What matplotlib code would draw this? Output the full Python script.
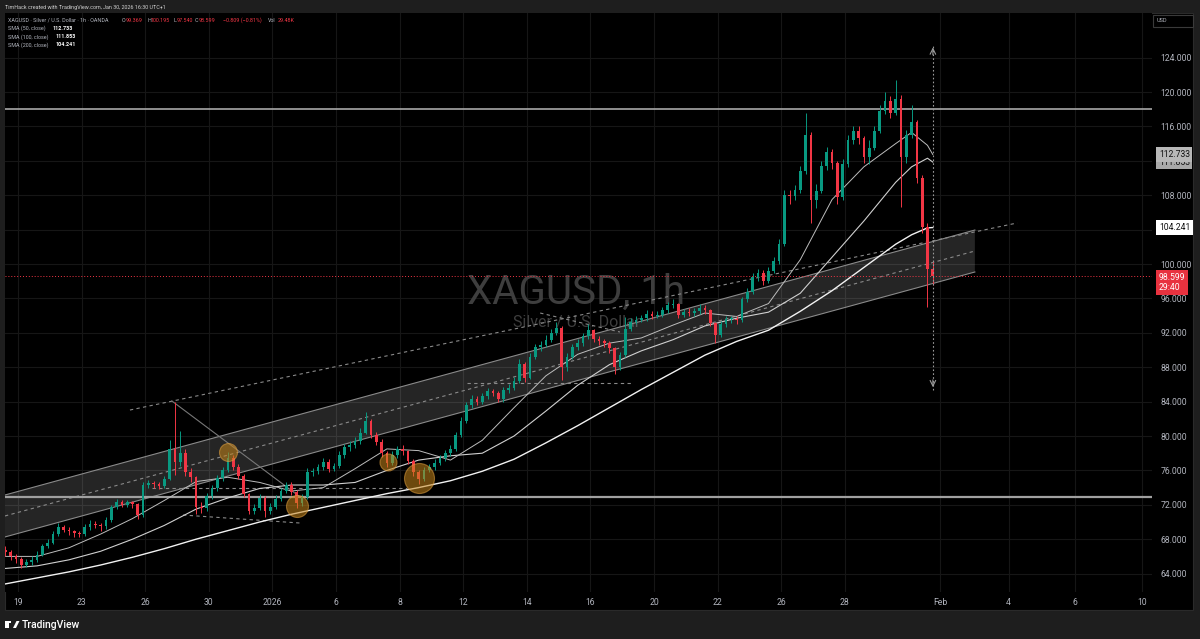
import matplotlib
matplotlib.use("Agg")
import matplotlib.pyplot as plt
import matplotlib.transforms as mtransforms
from matplotlib.patches import Rectangle, Polygon
import numpy as np

plt.rcParams['font.family'] = ['Roboto', 'DejaVu Sans']

# ---------------- data (XAGUSD) ----------------
first_open = 66.8
start_day = -0.40          # session-day position of the first bar
bars_per_day = 6

closes = [66.5, 66.0, 65.7, 65.0, 65.3, 65.6, 66.2, 67.2, 67.6, 68.6,
          69.4, 69.1, 68.9, 68.7, 68.6, 69.4, 69.8, 69.7, 69.5, 70.2,
          71.7, 72.3, 72.0, 72.3, 72.1, 70.8, 74.3, 74.5, 74.4, 74.2,
          75.0, 78.5, 77.0, 78.0, 75.8, 75.2, 71.8, 71.6, 73.0, 73.9,
          75.1, 76.0, 77.4, 76.4, 75.4, 73.2, 71.3, 71.6, 72.8, 71.3,
          71.7, 72.7, 73.6, 74.3, 73.5, 72.2, 72.9, 75.8, 75.9, 76.4,
          77.0, 76.2, 76.5, 77.8, 78.7, 78.9, 79.4, 80.4, 81.8, 80.1,
          79.3, 78.0, 76.9, 77.8, 78.5, 78.2, 77.1, 75.8, 75.0, 76.0,
          76.4, 76.9, 77.4, 78.0, 78.5, 80.1, 81.8, 83.6, 84.3, 84.0,
          84.6, 85.2, 85.0, 84.3, 85.3, 85.6, 86.4, 88.4, 86.8, 89.2,
          90.3, 90.6, 91.2, 92.0, 92.6, 88.0, 89.2, 90.3, 90.8, 91.6,
          92.3, 91.3, 91.0, 90.8, 90.2, 88.0, 89.4, 92.5, 93.3, 93.5,
          93.7, 94.2, 94.0, 94.1, 94.6, 95.2, 95.3, 94.1, 94.4, 94.3,
          94.5, 94.9, 94.6, 93.1, 91.8, 93.0, 93.6, 93.6, 93.5, 95.9,
          96.8, 98.5, 99.0, 98.0, 99.2, 100.3, 102.3, 108.0, 107.9, 108.6,
          110.8, 115.0, 107.5, 108.5, 111.4, 113.0, 111.8, 107.8, 111.6, 114.4,
          115.5, 114.6, 112.5, 113.5, 115.5, 117.8, 119.0, 117.6, 119.2, 112.5,
          115.0, 116.5, 110.0, 104.3, 99.369, 98.599]

highs = [67.2, 66.8, 66.3, 65.9, 65.7, 66.0, 66.6, 67.5, 68.0, 69.0,
         69.9, 69.6, 69.4, 69.1, 69.0, 69.8, 70.2, 70.1, 69.9, 70.6,
         72.0, 72.7, 72.6, 72.6, 72.5, 72.2, 74.7, 74.9, 74.8, 74.6,
         75.4, 79.5, 84.0, 80.6, 78.5, 76.3, 75.4, 72.3, 73.4, 74.3,
         75.5, 76.4, 78.1, 77.8, 76.8, 75.6, 73.4, 72.1, 73.3, 73.0,
         72.2, 73.1, 74.0, 74.7, 74.6, 73.7, 73.3, 76.3, 76.3, 76.8,
         77.4, 77.3, 76.9, 78.2, 79.1, 79.4, 79.9, 80.9, 82.8, 82.0,
         80.5, 79.6, 78.3, 78.3, 78.8, 78.9, 78.4, 77.3, 76.1, 76.4,
         76.8, 77.3, 77.8, 78.4, 78.9, 80.5, 82.2, 84.0, 84.8, 84.6,
         85.0, 85.6, 85.5, 85.2, 85.7, 86.0, 86.9, 88.9, 88.6, 89.6,
         90.7, 91.0, 91.7, 92.5, 93.2, 92.8, 89.7, 90.7, 91.3, 92.0,
         93.0, 92.5, 91.6, 91.3, 91.1, 90.4, 89.8, 93.8, 93.7, 93.9,
         94.1, 94.6, 94.5, 94.5, 95.0, 95.6, 95.9, 95.5, 94.8, 94.9,
         94.9, 95.3, 95.2, 94.8, 93.3, 93.4, 94.0, 94.0, 94.0, 96.2,
         97.2, 99.0, 99.4, 99.3, 99.6, 100.8, 102.9, 108.6, 108.6, 109.2,
         111.4, 117.6, 115.4, 109.3, 112.0, 113.6, 113.4, 112.0, 112.2, 115.0,
         116.0, 116.0, 114.9, 114.4, 116.0, 118.5, 120.0, 119.5, 121.4, 119.6,
         115.6, 118.5, 116.8, 110.4, 104.8, 100.195]

lows = [66.0, 65.6, 65.2, 64.7, 64.8, 65.0, 65.4, 66.0, 67.0, 67.4,
        68.4, 68.8, 68.5, 68.3, 68.2, 68.4, 69.1, 69.3, 68.9, 69.2,
        70.0, 71.5, 71.7, 71.8, 71.6, 70.4, 70.6, 74.0, 73.9, 73.8,
        74.0, 74.9, 75.5, 76.5, 75.3, 74.6, 70.9, 71.0, 71.3, 72.7,
        73.6, 74.8, 75.8, 76.0, 75.0, 72.9, 70.9, 70.9, 71.4, 70.6,
        70.9, 71.5, 72.5, 73.4, 73.1, 71.6, 71.9, 72.7, 75.3, 75.6,
        76.1, 75.8, 75.9, 76.3, 77.5, 78.3, 78.6, 79.1, 80.2, 79.8,
        78.9, 77.6, 76.4, 76.6, 77.5, 77.8, 76.8, 75.4, 74.4, 74.8,
        75.8, 76.1, 76.6, 77.1, 77.7, 78.3, 79.9, 81.5, 83.3, 83.6,
        83.7, 84.3, 84.6, 83.9, 84.0, 85.0, 85.3, 86.2, 86.3, 86.6,
        88.9, 89.9, 90.3, 90.9, 91.7, 86.5, 87.6, 88.9, 90.0, 90.5,
        91.3, 90.9, 90.6, 90.3, 89.7, 87.2, 87.7, 89.2, 92.2, 93.0,
        93.2, 93.4, 93.6, 93.7, 93.8, 94.3, 94.9, 93.7, 93.8, 93.9,
        94.0, 94.2, 94.2, 92.8, 90.8, 91.5, 92.7, 93.1, 93.0, 93.3,
        95.6, 96.5, 98.0, 97.6, 97.8, 98.9, 100.0, 102.1, 107.0, 107.4,
        108.3, 110.5, 104.8, 106.5, 108.2, 110.9, 111.0, 107.0, 107.5, 111.3,
        114.0, 114.0, 111.8, 111.6, 113.2, 115.2, 117.4, 117.0, 117.3, 106.6,
        111.8, 114.6, 109.4, 103.6, 95.0, 97.54]

# moving averages (bar index of each reading)
sma_idx = list(range(0, 169, 6)) + [171, 174, 175]
sma50 = [66.0, 66.0, 67.0, 68.6, 70.4, 72.5, 74.7, 75.2, 74.6, 73.6, 74.0, 76.2,
         78.5, 78.3, 77.2, 79.5, 83.3, 87.0, 89.5, 90.8, 91.4, 92.9, 94.3, 93.9,
         95.4, 100.5, 107.5, 111.3, 114.0, 115.3, 113.8, 112.733]
sma100 = [64.6, 64.9, 65.6, 66.6, 68.0, 69.6, 71.5, 72.8, 73.9, 74.3, 74.3, 74.6,
          76.0, 77.2, 77.7, 78.0, 80.0, 82.9, 85.9, 88.3, 89.9, 91.2, 92.8, 93.7,
          94.4, 96.6, 100.8, 105.0, 109.5, 111.3, 112.3, 111.853]
sma200 = [62.8, 63.5, 64.2, 65.0, 65.9, 66.9, 68.0, 69.0, 70.0, 70.9, 71.7, 72.5,
          73.3, 74.0, 74.8, 75.9, 77.3, 79.2, 81.2, 83.3, 85.4, 87.4, 89.4, 91.0,
          92.3, 94.5, 96.9, 99.6, 102.3, 103.4, 104.2, 104.241]

# time axis
xtick_labels = ["19", "23", "26", "30", "2026", "6", "8", "12", "14", "16",
                "20", "22", "26", "28", "Feb", "4", "6", "10"]
xtick_days = [0, 2, 4, 6, 8, 10, 12, 14, 16, 18, 20, 22, 24, 26, 29, 31.15, 33.25, 35.35]
ytick_vals = [64, 68, 72, 76, 80, 84, 88, 92, 96, 100, 108, 116, 120, 124]
grid_y = [64, 68, 72, 76, 80, 84, 88, 92, 96, 100, 104, 108, 112, 116, 120, 124]

# drawings (day, price)
hlevels = [118.0, 72.94]
channel_upper = [(-0.41, 73.14), (30.09, 103.95)]
channel_mid = [(-0.41, 70.70), (30.09, 101.51)]
channel_lower = [(-0.41, 68.26), (30.09, 99.07)]
upper_dotted = [(3.52, 83.02), (31.42, 104.77)]
down_trend = [(4.84, 84.07), (8.87, 72.91)]
dashed_segments = [[(4.21, 73.9), (12.23, 73.9)],
                   [(5.19, 70.81), (8.87, 69.88)],
                   [(14.12, 86.16), (19.34, 86.16)],
                   [(16.42, 94.30), (18.93, 92.09)]]
circles = [(6.60, 78.14, 9), (8.77, 71.86, 11), (11.64, 76.98, 8.5), (12.61, 75.12, 15)]
range_tool = (28.77, 85.35, 125.5)
last_price = 98.599
countdown = "29:40"

# ---------------- figure ----------------
W, H, DPI = 1200, 639, 100
fig = plt.figure(figsize=(W / DPI, H / DPI), dpi=DPI, facecolor='#1e1e1e')

def fx(px):
    return px / W

def fy(py):
    return 1 - py / H

# black chart canvas
fig.patches.append(Rectangle((fx(5), fy(610)), fx(1188), 597 / H,
                             transform=fig.transFigure, fc='black', ec='#2a2a2a',
                             lw=0.8, zorder=-5))

ax_l, ax_r, ax_t, ax_b = 5, 1152, 13, 592
ax = fig.add_axes([fx(ax_l), fy(ax_b), (ax_r - ax_l) / W, (ax_b - ax_t) / H])
ax.set_zorder(1)
ax.set_facecolor('black')
for s in ax.spines.values():
    s.set_visible(False)

x_px0, px_per_day = 18, 31.8
ax.set_xlim((ax_l - x_px0) / px_per_day, (ax_r - x_px0) / px_per_day)
y_px120, px_per_unit = 92, 8.6
ax.set_ylim(120 - (ax_b - y_px120) / px_per_unit, 120 + (y_px120 - ax_t) / px_per_unit)

# grid
for g in grid_y:
    ax.axhline(g, color='#161616', lw=0.8, zorder=0)
for d in xtick_days:
    ax.axvline(d, color='#161616', lw=0.8, zorder=0)

# ticks
GRAY = '#b2b5be'
ax.set_xticks(xtick_days)
ax.set_xticklabels(xtick_labels)
ax.set_yticks(ytick_vals)
ax.set_yticklabels([f"{v:.3f}" for v in ytick_vals])
ax.yaxis.tick_right()
ax.tick_params(axis='y', length=0, pad=6, labelsize=6.2, colors=GRAY)
ax.tick_params(axis='x', length=0, pad=4, labelsize=6.2, colors=GRAY)

# watermark
ax.text(0.498, 0.518, "XAGUSD, 1h", transform=ax.transAxes, ha='center', va='center',
        fontsize=29, color='#3e3e3e', zorder=1)
ax.text(0.498, 0.466, "Silver / U.S. Dollar", transform=ax.transAxes, ha='center',
        va='center', fontsize=11.5, color='#3e3e3e', zorder=1)

# channel
(ux0, uy0), (ux1, uy1) = channel_upper
(lx0, ly0), (lx1, ly1) = channel_lower
ax.add_patch(Polygon([(ux0, uy0), (ux1, uy1), (lx1, ly1), (lx0, ly0)], closed=True,
                     fc='#ffffff', alpha=0.15, ec='none', zorder=1))
for seg, ls in [(channel_upper, '-'), (channel_lower, '-'), (channel_mid, (0, (3, 3)))]:
    ax.plot([seg[0][0], seg[1][0]], [seg[0][1], seg[1][1]], color='#8a8a8a', lw=0.8,
            ls=ls, zorder=2)
ax.plot([upper_dotted[0][0], upper_dotted[1][0]], [upper_dotted[0][1], upper_dotted[1][1]],
        color='#8a8a8a', lw=0.8, ls=(0, (3, 3)), zorder=2)
ax.plot([down_trend[0][0], down_trend[1][0]], [down_trend[0][1], down_trend[1][1]],
        color='#777777', lw=0.8, zorder=2)
for seg in dashed_segments:
    ax.plot([seg[0][0], seg[1][0]], [seg[0][1], seg[1][1]], color='#8a8a8a', lw=0.8,
            ls=(0, (3, 3)), zorder=2)

# horizontal levels
ax.axhline(hlevels[0], color='#a8a8a8', lw=1.2, zorder=3)
ax.axhline(hlevels[1], color='#a0a0a0', lw=1.6, zorder=3)

# SMAs
sma_t = [start_day + i / bars_per_day for i in sma_idx]
ax.plot(sma_t, sma200, color='#f2f2f2', lw=1.0, zorder=3)
ax.plot(sma_t, sma100, color='#d0d0d0', lw=0.8, zorder=3)
ax.plot(sma_t, sma50, color='#bdbdbd', lw=0.7, zorder=3)

# candles
c = np.array(closes)
o = np.array([first_open] + closes[:-1])
hi = np.array(highs)
lo = np.array(lows)
t = start_day + np.arange(len(c)) / bars_per_day
GREEN, RED = '#089981', '#f23645'
col = np.where(c >= o, GREEN, RED)
ax.vlines(t, lo, hi, colors=col, lw=0.7, zorder=4)
ax.bar(t, np.maximum(np.abs(c - o), 0.1), bottom=np.minimum(o, c), width=0.085,
       color=col, lw=0, zorder=5)

# circles
for cx, cy, r in circles:
    ax.scatter([cx], [cy], s=(2 * r * 72 / DPI) ** 2, facecolor='#c8861a', alpha=0.55,
               edgecolor='#e0a040', lw=0.8, zorder=6)

# price range tool
rx, rlo, rhi = range_tool
ax.plot([rx, rx], [rlo, rhi], color='#9a9a9a', lw=0.8, ls=(0, (1.5, 2)), zorder=6)
ax.annotate('', xy=(rx, rhi), xytext=(rx, rhi - 1.5),
            arrowprops=dict(arrowstyle='->', color='#9a9a9a', lw=0.8), zorder=6)
ax.annotate('', xy=(rx, rlo), xytext=(rx, rlo + 1.5),
            arrowprops=dict(arrowstyle='->', color='#9a9a9a', lw=0.8), zorder=6)

# current price line
ax.axhline(last_price, color=RED, lw=0.7, ls=(0, (1, 2)), zorder=3)

# right-axis labels
blend = mtransforms.blended_transform_factory(ax.transAxes, ax.transData)
ax.text(1.006, sma100[-1], f"{sma100[-1]:.3f}", transform=blend, ha='left', va='center',
        fontsize=6.2, color='#111111', clip_on=False, zorder=10,
        bbox=dict(boxstyle='square,pad=0.3', fc='#a9a9a9', ec='none'))
ax.text(1.006, sma50[-1], f"{sma50[-1]:.3f}", transform=blend, ha='left', va='center',
        fontsize=6.2, color='#111111', clip_on=False, zorder=11,
        bbox=dict(boxstyle='square,pad=0.3', fc='#b8b8b8', ec='none'))
ax.text(1.006, sma200[-1], f"{sma200[-1]:.3f}", transform=blend, ha='left', va='center',
        fontsize=6.2, color='#111111', clip_on=False, zorder=10,
        bbox=dict(boxstyle='square,pad=0.3', fc='#ffffff', ec='none'))
ax.text(1.006, last_price - 0.75, f"{last_price:.3f}\n{countdown}", transform=blend,
        ha='left', va='center', fontsize=6.2, color='white', clip_on=False, zorder=10,
        linespacing=1.25, bbox=dict(boxstyle='square,pad=0.3', fc='#e8323f', ec='none'))

# USD box
fig.patches.append(Rectangle((fx(1153), fy(27)), 40 / W, 12 / H, transform=fig.transFigure,
                             fc='black', ec='#3a3a3a', lw=0.8, zorder=5))
fig.text(fx(1157), fy(21), "USD", fontsize=4, color=GRAY, va='center', ha='left', zorder=6)

# header texts
HF = 3.9
fig.text(fx(5), fy(7), "TimHack created with TradingView.com, Jan 30, 2026 16:30 UTC+1",
         fontsize=HF, color='#d0d0d0', va='center', ha='left')
hy = fy(20)
fig.text(fx(8), hy, "XAGUSD · Silver / U.S. Dollar · 1h · OANDA", fontsize=HF,
         color=GRAY, va='center', zorder=6)
parts = [(122, "O", GRAY), (126, "99.369", RED), (147, "H", GRAY), (151, "100.195", RED),
         (174, "L", GRAY), (177, "97.540", RED), (195, "C", GRAY), (199, "98.599", RED),
         (223, "−0.809 (−0.81%)", RED), (268, "Vol", GRAY), (278, "29.48K", RED)]
for px, s, cc in parts:
    fig.text(fx(px), hy, s, fontsize=HF, color=cc, va='center', zorder=6)
for py, name, val, vx in [(28, "SMA (50, close)", sma50[-1], 53),
                          (37, "SMA (100, close)", sma100[-1], 56),
                          (45, "SMA (200, close)", sma200[-1], 56)]:
    fig.text(fx(8), fy(py), name, fontsize=HF, color=GRAY, va='center', zorder=6)
    fig.text(fx(vx), fy(py), f"{val:.3f}", fontsize=HF, color='white',
             fontweight='bold', va='center', zorder=6)

# bottom logo
fig.patches.append(Rectangle((fx(5), fy(628)), 4 / W, 7 / H, transform=fig.transFigure,
                             fc='white', ec='none'))
fig.patches.append(Rectangle((fx(5), fy(623)), 6 / W, 2 / H, transform=fig.transFigure,
                             fc='white', ec='none'))
fig.patches.append(Polygon([(fx(13), fy(628)), (fx(16), fy(628)), (fx(19.5), fy(621)),
                            (fx(16.5), fy(621))], closed=True, transform=fig.transFigure,
                           fc='white', ec='none'))
fig.text(fx(22), fy(625), "TradingView", fontsize=7.5, color='white', va='center',
         fontweight='medium')

fig.savefig("out.png", dpi=DPI, facecolor=fig.get_facecolor())
